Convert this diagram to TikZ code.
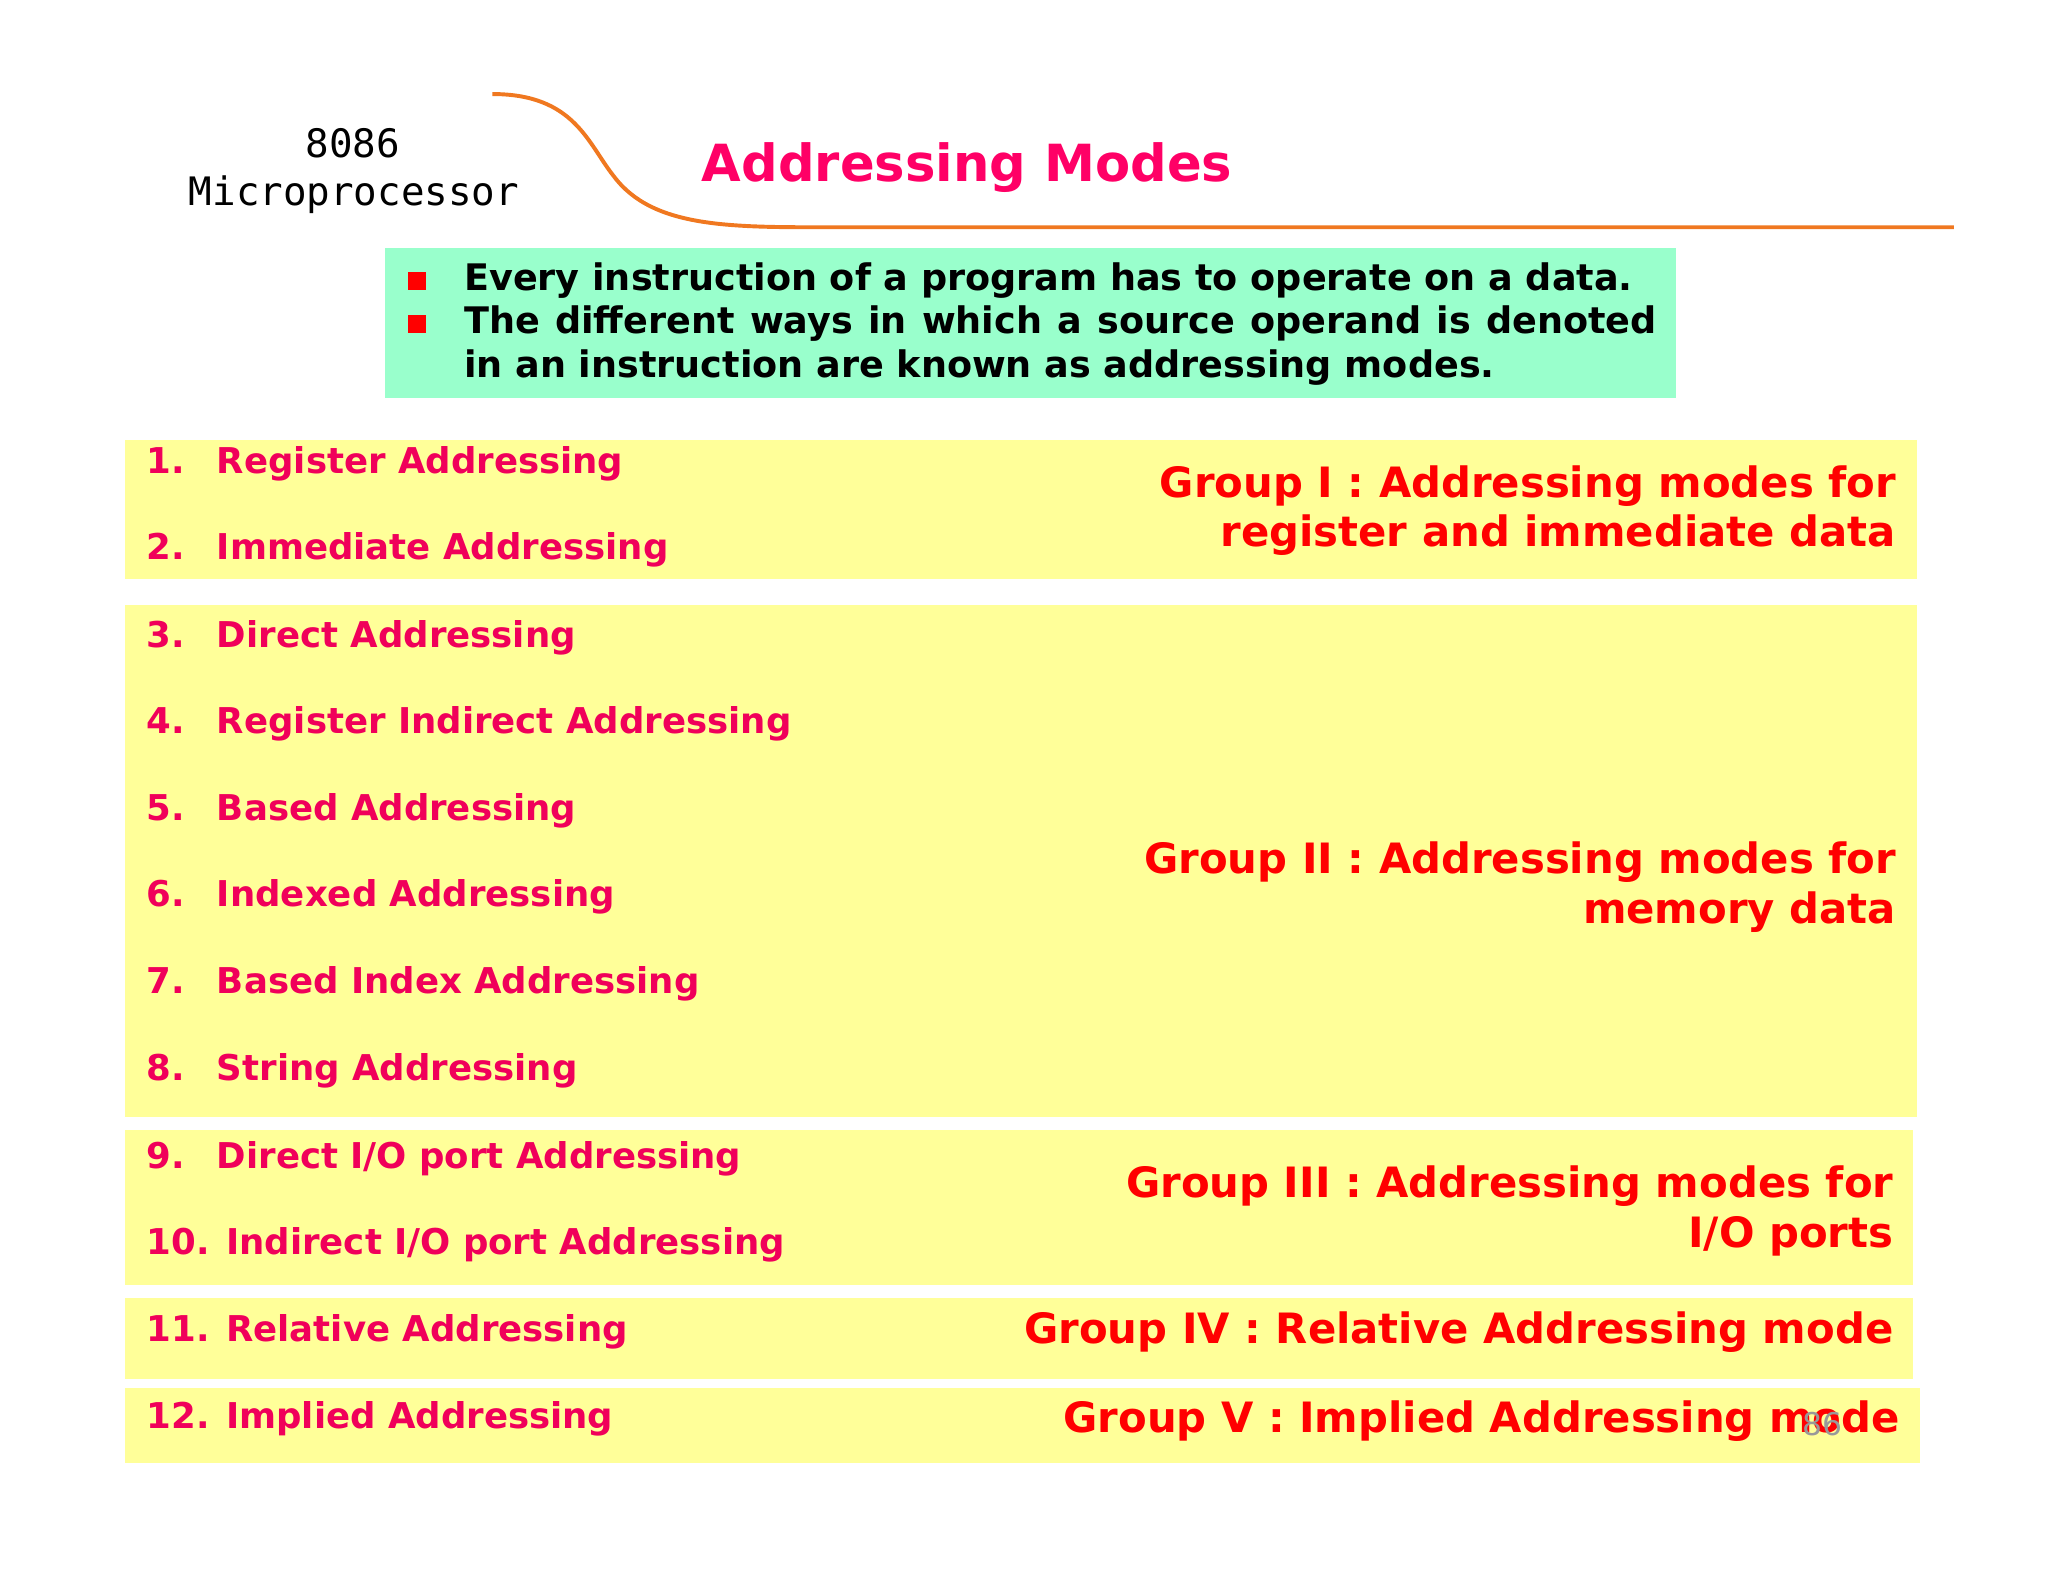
\documentclass[tikz,border=0pt]{standalone}
\usepackage{fontspec}
\setmainfont{DejaVu Sans}
\setmonofont{DejaVu Sans Mono}
\definecolor{ylw}{HTML}{FFFF99}
\definecolor{grn}{HTML}{99FFCC}
\definecolor{pinkt}{HTML}{F0005A}
\definecolor{ttl}{HTML}{FF0066}
\definecolor{orng}{HTML}{F07820}
\begin{document}
\begin{tikzpicture}[x=0.5pt,y=-0.5pt,
  item/.style={anchor=west,inner sep=0pt,font=\bfseries\fontsize{13.6}{16}\selectfont,text=pinkt},
  grp/.style={anchor=east,inner sep=0pt,font=\bfseries\fontsize{16}{19}\selectfont,text=red,align=right},
  band/.style={fill=ylw,draw=none}]
\useasboundingbox (0,0) rectangle (1568,1211);
\fill[white] (0,0) rectangle (1568,1211);
% header
\node[font=\ttfamily\fontsize{15}{17}\selectfont] (h1) at (270,110) {8086};
\node[font=\ttfamily\fontsize{15}{17}\selectfont] (h2) at (271,149) {Microprocessor};
\draw[orng,line width=1.5pt] (377,72) .. controls (440,72) and (450,110) .. (470,135) .. controls (500,175) and (560,174) .. (640,174) -- (1496,174);
\node[font=\bfseries\fontsize{19.6}{23}\selectfont,text=ttl,anchor=west,inner sep=0pt] (title) at (537,128) {Addressing Modes};
% green box
\fill[grn] (295,190) rectangle (1283,305);
\fill[red] (312,208) rectangle (326,222);
\fill[red] (312,241) rectangle (326,255);
\node[anchor=north west,inner sep=0pt,text width=456.5pt,align=justify,font=\bfseries\fontsize{14}{16.5}\selectfont] (b1) at (355,201) {\hyphenpenalty=10000 Every instruction of a program has to operate on a data.\\
The different ways in which a source operand is denoted in an instruction are known as addressing modes.};
% bands
\fill[band] (96,337) rectangle (1468,443);
\fill[band] (96,463) rectangle (1468,855);
\fill[band] (96,865) rectangle (1465,984);
\fill[band] (96,994) rectangle (1465,1056);
\fill[band] (96,1063) rectangle (1470,1120);
% items
\node[item] (i1) at (112,355) {1.\hspace{0.9em}Register Addressing};
\node[item] (i2) at (112,421) {2.\hspace{0.9em}Immediate Addressing};
\node[item] (i3) at (112,488) {3.\hspace{0.9em}Direct Addressing};
\node[item] (i4) at (112,554) {4.\hspace{0.9em}Register Indirect Addressing};
\node[item] (i5) at (112,621) {5.\hspace{0.9em}Based Addressing};
\node[item] (i6) at (112,687) {6.\hspace{0.9em}Indexed Addressing};
\node[item] (i7) at (112,753) {7.\hspace{0.9em}Based Index Addressing};
\node[item] (i8) at (112,820) {8.\hspace{0.9em}String Addressing};
\node[item] (i9) at (112,887) {9.\hspace{0.9em}Direct I/O port Addressing};
\node[item] (i10) at (112,953) {10. Indirect I/O port Addressing};
\node[item] (i11) at (112,1020) {11. Relative Addressing};
\node[item] (i12) at (112,1086) {12. Implied Addressing};
% groups
\node[grp] (g1) at (1452,391) {Group I : Addressing modes for\\register and immediate data};
\node[grp] (g2) at (1452,679) {Group II : Addressing modes for\\memory data};
\node[grp] (g3) at (1450,927) {Group III : Addressing modes for\\I/O ports};
\node[grp] (g4) at (1450,1020) {Group IV : Relative Addressing mode};
\node[grp] (g5) at (1455,1088) {Group V : Implied Addressing mode};
\node[text=gray!80,font=\fontsize{12}{14}\selectfont,inner sep=0pt] (pg) at (1395,1090) {86};
\end{tikzpicture}
\end{document}
